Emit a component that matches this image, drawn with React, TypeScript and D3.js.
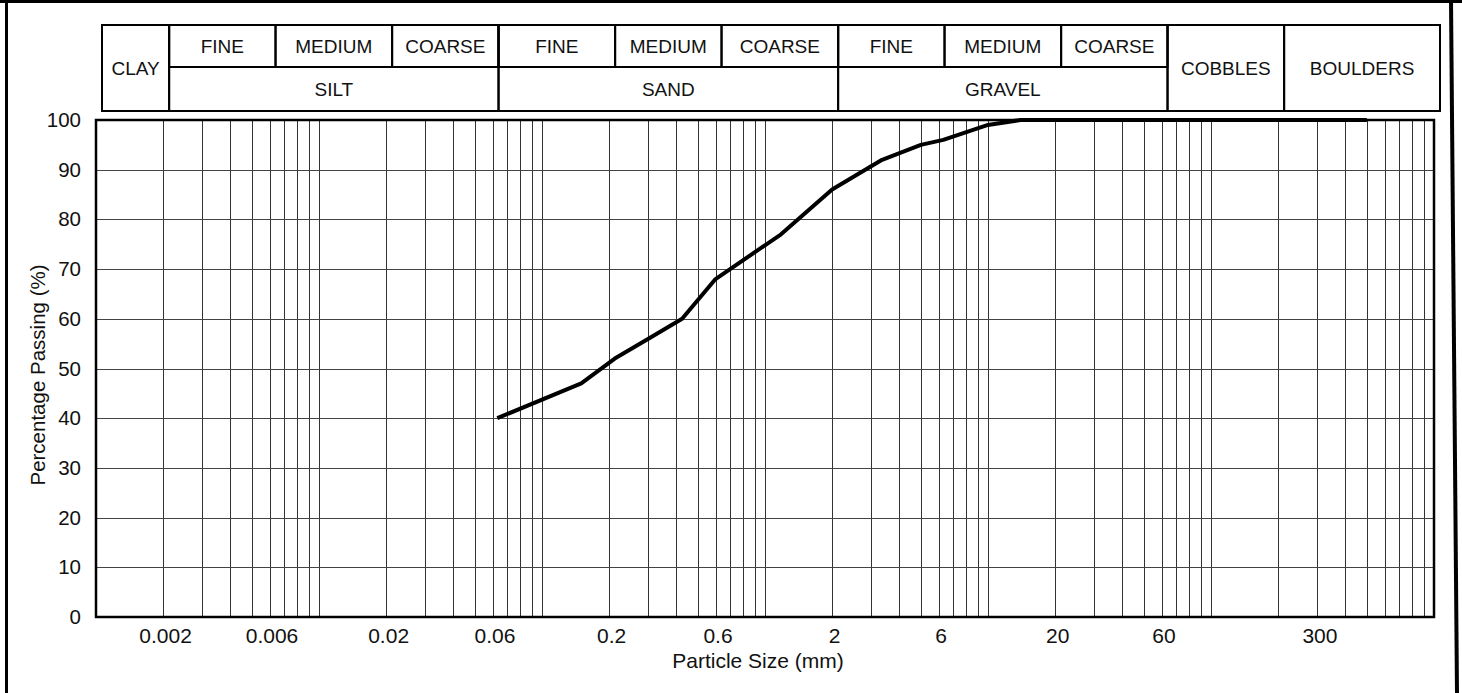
import React, { useEffect, useRef } from "react";
import * as d3 from "d3";

const width = 1462;
const height = 693;
const font = "'Liberation Sans', Arial, sans-serif";

// grading curve
const sieveSizes = [0.063, 0.15, 0.212, 0.3, 0.425, 0.6, 1.18, 2, 3.35, 5, 6.3, 10, 14, 500];
const percentPassing = [40, 47, 52, 56, 60, 68, 77, 86, 92, 95, 96, 99, 100, 100];

const xTickValues = [0.002, 0.006, 0.02, 0.06, 0.2, 0.6, 2, 6, 20, 60, 300];
const yTickValues = [0, 10, 20, 30, 40, 50, 60, 70, 80, 90, 100];

// soil classification header
const fractions = ["CLAY", "SILT", "SAND", "GRAVEL", "COBBLES", "BOULDERS"];
const fractionBounds = [0.001, 0.002, 0.06, 2, 60, 200, 1000];
const subLabels = ["FINE", "MEDIUM", "COARSE"];
const subBounds = [0.002, 0.006, 0.02, 0.06, 0.2, 0.6, 2, 6, 20, 60];

const left = 96;
const right = 1434;
const top = 120;
const bottom = 617;
const headTop = 25;
const headMid = 67;
const headBottom = 111;
const headShift = 6;

const App = () => {
  const ref = useRef<SVGSVGElement>(null);

  useEffect(() => {
    const svg = d3.select(ref.current);
    svg.selectAll("*").remove();

    const x = d3.scaleLog().domain([0.001, 1000]).range([left, right]);
    const y = d3.scaleLinear().domain([0, 100]).range([bottom, top]);

    // outer frame
    svg.append("line").attr("x1", 6.5).attr("y1", 0).attr("x2", 6.5).attr("y2", height)
      .attr("stroke", "black").attr("stroke-width", 3);
    svg.append("line").attr("x1", 0).attr("y1", 1.5).attr("x2", width).attr("y2", 1.5)
      .attr("stroke", "black").attr("stroke-width", 3);
    svg.append("line").attr("x1", 1451).attr("y1", 0).attr("x2", 1457).attr("y2", height)
      .attr("stroke", "black").attr("stroke-width", 4);

    // vertical log grid
    const gridX: number[] = [];
    for (let k = -3; k <= 2; k++) {
      for (let m = 1; m <= 9; m++) {
        const v = m * Math.pow(10, k);
        if (v > 0.001) gridX.push(v);
      }
    }
    svg.append("g").selectAll("line").data(gridX).enter().append("line")
      .attr("x1", (d) => Math.round(x(d)) + 0.5).attr("x2", (d) => Math.round(x(d)) + 0.5)
      .attr("y1", top).attr("y2", bottom)
      .attr("stroke", "#333").attr("stroke-width", 1);

    svg.append("g").selectAll("line").data(yTickValues.slice(1, -1)).enter().append("line")
      .attr("x1", left).attr("x2", right)
      .attr("y1", (d) => Math.round(y(d)) + 0.5).attr("y2", (d) => Math.round(y(d)) + 0.5)
      .attr("stroke", "#444").attr("stroke-width", 1);

    // grading curve
    const pts: [number, number][] = sieveSizes.map((s, i) => [s, percentPassing[i]]);
    const line = d3.line<[number, number]>().x((d) => x(d[0])).y((d) => y(d[1]));
    svg.append("path").datum(pts).attr("d", line)
      .attr("fill", "none").attr("stroke", "black").attr("stroke-width", 4)
      .attr("stroke-linejoin", "round");

    svg.append("rect").attr("x", left).attr("y", top)
      .attr("width", right - left).attr("height", bottom - top)
      .attr("fill", "none").attr("stroke", "black").attr("stroke-width", 2.5);

    // axes
    const xAxis = svg.append("g").attr("transform", `translate(2,${bottom})`)
      .call(d3.axisBottom(x).tickValues(xTickValues).tickFormat((d) => String(d)).tickSize(0).tickPadding(11));
    xAxis.select(".domain").remove();
    xAxis.selectAll("text").attr("font-size", 21).attr("font-family", font).attr("fill", "#111");

    const yAxis = svg.append("g").attr("transform", `translate(${left},0)`)
      .call(d3.axisLeft(y).tickValues(yTickValues).tickSize(0).tickPadding(15));
    yAxis.select(".domain").remove();
    yAxis.selectAll("text").attr("font-size", 20.5).attr("font-family", font).attr("fill", "#111");

    svg.append("text").attr("x", 758).attr("y", 668)
      .attr("text-anchor", "middle").attr("font-size", 21).attr("font-family", font)
      .attr("fill", "#111").text("Particle Size (mm)");
    svg.append("text").attr("transform", `translate(45,375) rotate(-90)`)
      .attr("text-anchor", "middle").attr("font-size", 20.5).attr("font-family", font)
      .attr("fill", "#111").text("Percentage Passing (%)");

    // header table
    const hx = (v: number) => x(v) + headShift;
    const head = svg.append("g").attr("font-family", font).attr("font-size", 19).attr("fill", "#111");
    const cells = head.selectAll("g").data(fractions).enter().append("g");
    cells.append("rect")
      .attr("x", (d, i) => hx(fractionBounds[i])).attr("y", headTop)
      .attr("width", (d, i) => hx(fractionBounds[i + 1]) - hx(fractionBounds[i]))
      .attr("height", headBottom - headTop)
      .attr("fill", "none").attr("stroke", "black").attr("stroke-width", 2);
    const split = (d: string) => d === "SILT" || d === "SAND" || d === "GRAVEL";
    cells.append("text")
      .attr("x", (d, i) => (hx(fractionBounds[i]) + hx(fractionBounds[i + 1])) / 2)
      .attr("y", (d) => (split(d) ? (headMid + headBottom) / 2 : (headTop + headBottom) / 2))
      .attr("dy", "0.36em").attr("text-anchor", "middle").text((d) => d);

    const subs = d3.range(subBounds.length - 1);
    head.append("g").selectAll("rect").data(subs).enter().append("rect")
      .attr("x", (i) => hx(subBounds[i])).attr("y", headTop)
      .attr("width", (i) => hx(subBounds[i + 1]) - hx(subBounds[i]))
      .attr("height", headMid - headTop)
      .attr("fill", "none").attr("stroke", "black").attr("stroke-width", 2);
    head.append("g").selectAll("text").data(subs).enter().append("text")
      .attr("x", (i) => (hx(subBounds[i]) + hx(subBounds[i + 1])) / 2)
      .attr("y", (headTop + headMid) / 2).attr("dy", "0.36em")
      .attr("text-anchor", "middle").text((i) => subLabels[i % 3]);
  }, []);

  return (
    <svg
      ref={ref}
      width={width}
      height={height}
      style={{ position: "absolute", left: 0, top: 0, background: "white", display: "block" }}
    ></svg>
  );
};

export default App;
